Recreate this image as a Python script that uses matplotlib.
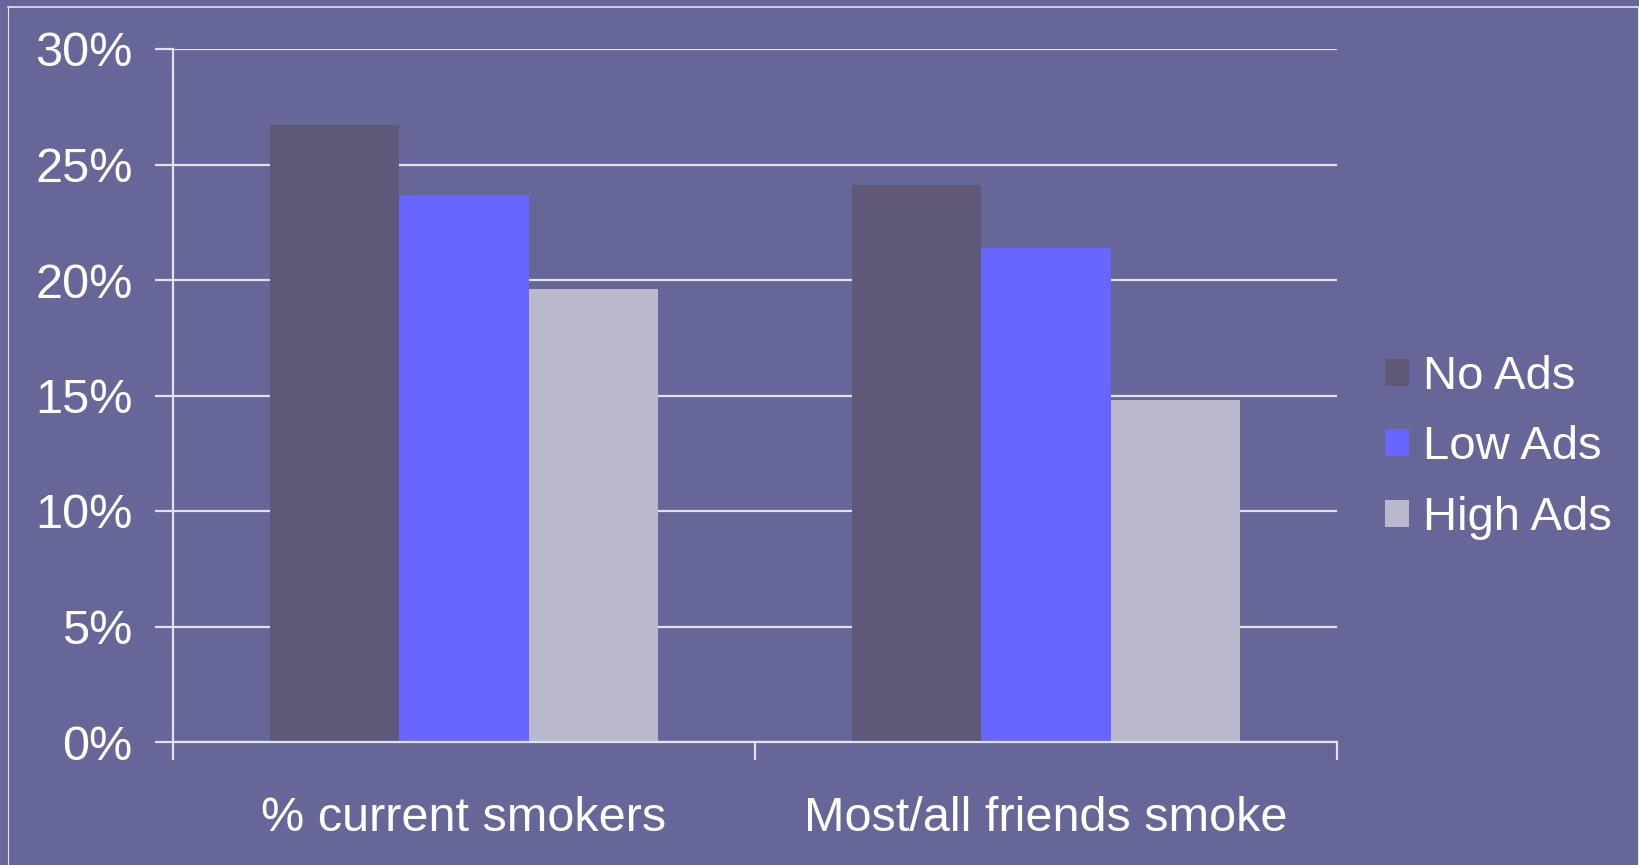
import matplotlib

matplotlib.use("Agg")

import matplotlib.pyplot as plt
import numpy as np
from matplotlib.lines import Line2D
from matplotlib.ticker import FuncFormatter

categories = ["% current smokers", "Most/all friends smoke"]
series_names = ["No Ads", "Low Ads", "High Ads"]
no_ads = [26.7, 24.1]
low_ads = [23.7, 21.4]
high_ads = [19.6, 14.8]
y_ticks = [0, 5, 10, 15, 20, 25, 30]

BG = "#666699"
LINE = "#e2e2ea"
COLORS = ["#5f5879", "#6666ff", "#b9b9cb"]

plt.rcParams["font.family"] = ["Liberation Sans", "DejaVu Sans"]

fig = plt.figure(figsize=(16.4, 8.65), dpi=100, facecolor=BG)
ax = fig.add_axes([173 / 1640, 1 - 742 / 865, (1337 - 173) / 1640, (742 - 49) / 865])
ax.set_facecolor(BG)

x = np.arange(len(categories))
width = 0.222
for i, (name, vals) in enumerate(zip(series_names, [no_ads, low_ads, high_ads])):
    ax.bar(x + (i - 1) * width, vals, width=width, color=COLORS[i], label=name, zorder=3)

ax.set_xlim(-0.5, len(categories) - 0.5)
ax.set_ylim(0, 30)
ax.set_yticks(y_ticks)
ax.yaxis.set_major_formatter(FuncFormatter(lambda v, _: f"{v:.0f}%"))
ax.grid(axis="y", color=LINE, linewidth=1.6, zorder=1)
ax.tick_params(axis="y", length=13, width=1.6, color=LINE, labelcolor="white",
               labelsize=35, pad=16)

ax.set_xticks(x)
ax.set_xticklabels(categories)
ax.set_xticks(np.arange(-0.5, len(categories)), minor=True)
ax.tick_params(axis="x", which="major", length=0, labelcolor="white", labelsize=35, pad=39)
ax.tick_params(axis="x", which="minor", length=13, width=1.6, color=LINE)

for side in ["top", "right"]:
    ax.spines[side].set_visible(False)
for side in ["left", "bottom"]:
    ax.spines[side].set_color(LINE)
    ax.spines[side].set_linewidth(1.6)
    ax.spines[side].set_zorder(4)

leg = ax.legend(loc="center left", bbox_to_anchor=(1.025, 0.425), frameon=False,
                fontsize=34, labelcolor="white", handlelength=0.5, handleheight=0.5,
                handletextpad=0.3, labelspacing=0.56, borderaxespad=0)

# thin slide border
fig.add_artist(Line2D([8 / 1640, 1638 / 1640], [1 - 7 / 865, 1 - 7 / 865],
                      transform=fig.transFigure, color=LINE, linewidth=1.2))
fig.add_artist(Line2D([8 / 1640, 8 / 1640], [0, 1 - 7 / 865],
                      transform=fig.transFigure, color=LINE, linewidth=0.8))
fig.add_artist(Line2D([1638 / 1640, 1638 / 1640], [0, 1 - 7 / 865],
                      transform=fig.transFigure, color=LINE, linewidth=0.8))

fig.savefig("out.png", facecolor=BG)
